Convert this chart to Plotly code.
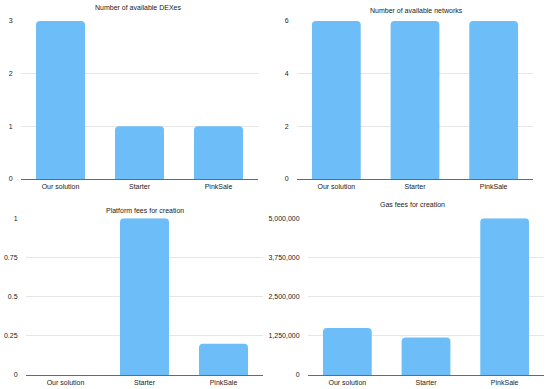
import plotly.graph_objects as go

categories = ["Our solution", "Starter", "PinkSale"]
dexes = [3, 1, 1]
networks = [6, 6, 6]
platform_fees = [0, 1, 0.2]
gas_fees = [1500000, 1200000, 5000000]

titles = ["Number of available DEXes", "Number of available networks",
          "Platform fees for creation", "Gas fees for creation"]

W, H = 550, 389
BAR = "#6dbef8"
FONT = "Liberation Sans, Arial, Helvetica, sans-serif"
TXT = "#222"

def px_x(a, b):
    return [a / W, b / W]

def px_y(top, bottom):
    return [1 - bottom / H, 1 - top / H]

panels = [
    dict(data=dexes, xd=px_x(21, 258), yd=px_y(21, 179), rng=[0, 3], dtick=1, fmt=None,
         title=titles[0], tx=137.5, ty=8),
    dict(data=networks, xd=px_x(297, 533), yd=px_y(21, 179), rng=[0, 6], dtick=2, fmt=None,
         title=titles[1], tx=416, ty=11),
    dict(data=platform_fees, xd=px_x(26, 263), yd=px_y(218.3, 375), rng=[0, 1], dtick=0.25, fmt=None,
         title=titles[2], tx=144.5, ty=210),
    dict(data=gas_fees, xd=px_x(308, 544), yd=px_y(218.3, 375), rng=[0, 5000000], dtick=1250000, fmt=",d",
         title=titles[3], tx=412.5, ty=204),
]

fig = go.Figure()
annotations = []
for i, p in enumerate(panels, start=1):
    sfx = "" if i == 1 else str(i)
    fig.add_trace(go.Bar(
        x=categories, y=p["data"], xaxis="x" + sfx, yaxis="y" + sfx,
        marker=dict(color=BAR, line=dict(width=0), cornerradius=4),
        hoverinfo="x+y", showlegend=False,
    ))
    fig.layout["xaxis" + sfx] = dict(
        domain=p["xd"], anchor="y" + sfx, showline=True, linecolor="#6a6a6a", linewidth=1,
        showgrid=False, ticks="outside", ticklen=1, tickcolor="rgba(0,0,0,0)",
        tickfont=dict(size=7, color=TXT, family=FONT),
        fixedrange=True, automargin=False,
    )
    yax = dict(
        domain=p["yd"], anchor="x" + sfx, range=p["rng"], dtick=p["dtick"], tick0=0,
        showgrid=True, gridcolor="#e6e6e6", gridwidth=1, zeroline=False, showline=False,
        ticks="outside", ticklen=6, tickcolor="rgba(0,0,0,0)",
        tickfont=dict(size=7, color=TXT, family=FONT), fixedrange=True, automargin=False,
    )
    if p["fmt"]:
        yax["tickformat"] = p["fmt"]
    fig.layout["yaxis" + sfx] = yax
    annotations.append(dict(
        text=p["title"], x=p["tx"] / W, y=1 - p["ty"] / H, xref="paper", yref="paper",
        xanchor="center", yanchor="middle", showarrow=False,
        font=dict(size=7, color=TXT, family=FONT),
    ))

fig.update_layout(
    width=W, height=H, margin=dict(l=0, r=0, t=0, b=0),
    paper_bgcolor="white", plot_bgcolor="white", bargap=0.38,
    annotations=annotations, font=dict(family=FONT),
)

fig.write_html(
    "out.html",
    config={"displayModeBar": False, "staticPlot": True},
    post_script="document.body.style.margin='0';document.body.style.padding='0';"
                "document.body.style.overflow='hidden';",
)
